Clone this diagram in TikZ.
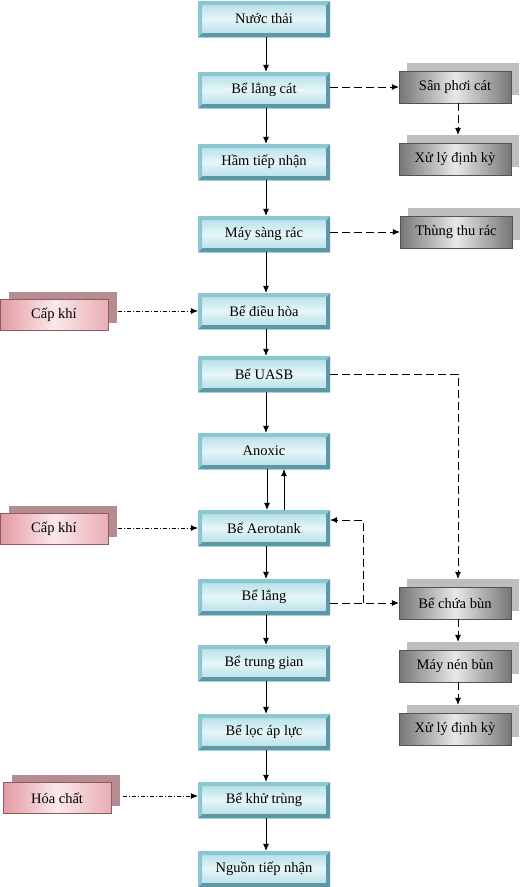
\documentclass[tikz,border=0pt]{standalone}
\usepackage{fontspec}
\setmainfont{Liberation Serif}
\usepackage{xcolor}
\definecolor{TankLight}{HTML}{E6F6F9}
\definecolor{TankMid}{HTML}{AEDCE5}
\definecolor{TankDark}{HTML}{5E97A5}
\definecolor{TankEdge}{HTML}{8CC6D2}
\definecolor{SludgeDark}{HTML}{767676}
\definecolor{SludgeLight}{HTML}{E8E8E8}
\definecolor{SludgeBack}{HTML}{BEBEBE}
\definecolor{FeedPink}{HTML}{E29AA2}
\definecolor{FeedLight}{HTML}{FBE8EA}
\definecolor{FeedBack}{HTML}{B68C91}
\usetikzlibrary{calc, arrows.meta, shadows}

\tikzset{
  tank/.style={rectangle, minimum width=132pt, minimum height=36pt, inner sep=0pt,
    top color=TankMid, bottom color=TankMid, middle color=TankLight,
    path picture={
      \fill[TankDark] (path picture bounding box.south west) -- (path picture bounding box.south east)
        -- (path picture bounding box.north east) -- ([xshift=-4pt,yshift=-4pt]path picture bounding box.north east)
        -- ([xshift=-4pt,yshift=4pt]path picture bounding box.south east) -- ([xshift=4pt,yshift=4pt]path picture bounding box.south west) -- cycle;
      \fill[TankEdge] (path picture bounding box.south west) -- (path picture bounding box.north west)
        -- (path picture bounding box.north east) -- ([xshift=-4pt,yshift=-4pt]path picture bounding box.north east)
        -- ([xshift=4pt,yshift=-4pt]path picture bounding box.north west) -- ([xshift=4pt,yshift=4pt]path picture bounding box.south west) -- cycle;
    }},
  sludge/.style={rectangle, minimum width=112pt, minimum height=32pt, inner sep=0pt,
    left color=SludgeDark, right color=SludgeDark, middle color=SludgeLight, draw=SludgeDark!70!black, thin,
    drop shadow={opacity=1, fill=SludgeBack, shadow xshift=8pt, shadow yshift=8pt}},
  feed/.style={rectangle, minimum width=108pt, minimum height=31pt, inner sep=0pt,
    left color=FeedPink, right color=FeedPink!80, middle color=FeedLight, draw=FeedPink!60!black, very thin,
    drop shadow={opacity=1, fill=FeedBack, shadow xshift=9pt, shadow yshift=8pt}},
  flow/.style={-{Latex[length=7pt,width=6pt]}, semithick},
  dashflow/.style={flow, dash pattern=on 8pt off 4pt},
  feedflow/.style={flow, dash pattern=on 4pt off 2pt on 1pt off 2pt}
}

\begin{document}
\begin{tikzpicture}[x=1pt, y=-1pt, font=\fontsize{14.5}{16}\selectfont]

    \useasboundingbox (0,0) rectangle (521,887);

    % main treatment line
    \node[tank] (nuocthai)  at (264,19)  {Nước thải};
    \node[tank] (langcat)   at (264,90)  {Bể lắng cát};
    \node[tank] (hamtn)     at (264,162) {Hầm tiếp nhận};
    \node[tank] (maysang)   at (264,234) {Máy sàng rác};
    \node[tank] (dieuhoa)   at (264,311) {Bể điều hòa};
    \node[tank] (uasb)      at (264,374) {Bể UASB};
    \node[tank] (anoxic)    at (264,451) {Anoxic};
    \node[tank] (aerotank)  at (264,528) {Bể Aerotank};
    \node[tank] (lang)      at (264,597) {Bể lắng};
    \node[tank] (trunggian) at (264,663) {Bể trung gian};
    \node[tank] (locap)     at (264,732) {Bể lọc áp lực};
    \node[tank] (khutrung)  at (264,800) {Bể khử trùng};
    \node[tank] (nguon)     at (264,869) {Nguồn tiếp nhận};

    % sand, screenings and sludge handling
    \node[sludge] (sanphoi)  at (455,87)  {Sân phơi cát};
    \node[sludge] (xuly1)    at (455,159) {Xử lý định kỳ};
    \node[sludge] (thungrac) at (456,232) {Thùng thu rác};
    \node[sludge] (chuabun)  at (455,603) {Bể chứa bùn};
    \node[sludge] (nenbun)   at (455,666) {Máy nén bùn};
    \node[sludge] (xuly2)    at (455,729) {Xử lý định kỳ};

    % inputs
    \node[feed] (capkhi1) at (54,315) {Cấp khí};
    \node[feed] (capkhi2) at (54,529) {Cấp khí};
    \node[feed] (hoachat) at (57,798) {Hóa chất};

    % water flow
    \foreach \a/\b in {nuocthai/langcat, langcat/hamtn, hamtn/maysang, maysang/dieuhoa,
                       dieuhoa/uasb, uasb/anoxic, aerotank/lang, lang/trunggian,
                       trunggian/locap, locap/khutrung, khutrung/nguon} {
        \draw[flow] ([xshift=2pt]\a.south) -- ([xshift=2pt]\b.north);
    }
    \draw[flow] ([xshift=3pt]anoxic.south) -- ([xshift=3pt]aerotank.north);
    \draw[flow] ([xshift=20pt]aerotank.north) -- ([xshift=20pt]anoxic.south);

    % side streams
    \draw[dashflow] (langcat.east |- sanphoi.west) -- (sanphoi.west);
    \draw[dashflow] ($(sanphoi.south)+(3,0)$) -- ($(xuly1.north)+(3,-8)$);
    \draw[dashflow] (maysang.east |- thungrac.west) -- (thungrac.west);
    \draw[dashflow] (uasb.east) -| ($(chuabun.north)+(3,-8)$);
    \draw[dashflow] (lang.east |- chuabun.west) -- (chuabun.west);
    \coordinate (recycle) at (363,603);
    \draw[dashflow] (recycle) |- ($(aerotank.east)+(0,-8)$);
    \draw[dashflow] ($(chuabun.south)+(3,0)$) -- ($(nenbun.north)+(3,-8)$);
    \draw[dashflow] ($(nenbun.south)+(3,0)$) -- ($(xuly2.north)+(3,-8)$);

    % air and chemicals
    \draw[feedflow] ($(capkhi1.east |- dieuhoa.west)+(10,0)$) -- (dieuhoa.west);
    \draw[feedflow] ($(capkhi2.east |- aerotank.west)+(10,0)$) -- (aerotank.west);
    \draw[feedflow] ($(hoachat.east |- khutrung.west)+(12,-4)$) -- ($(khutrung.west)+(0,-4)$);

\end{tikzpicture}
\end{document}
